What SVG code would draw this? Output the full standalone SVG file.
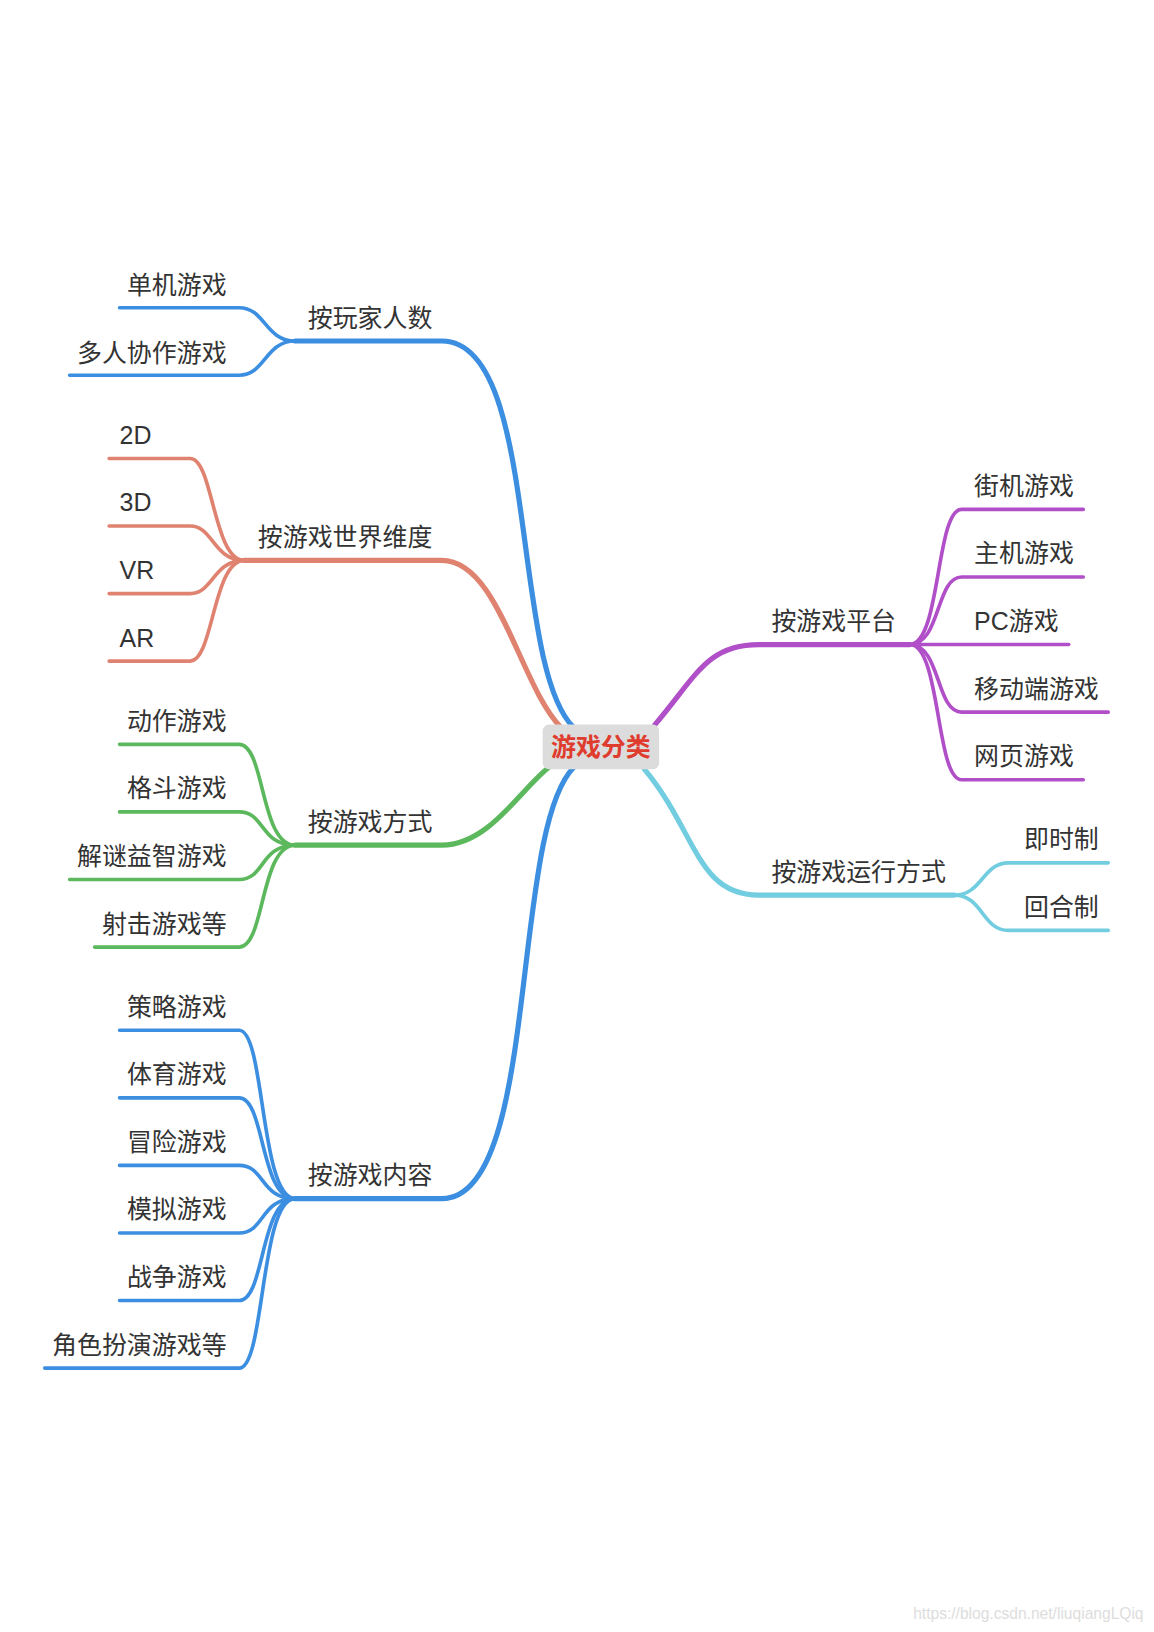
<svg xmlns="http://www.w3.org/2000/svg" width="1154" height="1632" viewBox="0 0 1154 1632">
<style>
.t{font-family:"Liberation Sans","Noto Sans CJK SC",sans-serif;font-size:24px;fill:#333}
.e{text-anchor:end}
path{fill:none;stroke-linecap:round}
.m{stroke-width:5}.c{stroke-width:3.5}
.b{stroke:#3b8ee0}.o{stroke:#e08270}.g{stroke:#5cb85c}.p{stroke:#b04fc8}.y{stroke:#72cde0}
</style>
<rect width="1154" height="1632" fill="#fff"/>
<g transform="scale(1.0396)">
<g id="connectors">
<path class="m b" d="M284,328 H425 C520,328 490,640 552,700"/>
<path class="m b" d="M284,1153 H425 C520,1153 490,800 552,738"/>
<path class="m o" d="M235,539 H425 C480,539 500,660 540,700"/>
<path class="m g" d="M284,813 H425 C470,813 500,760 528,738"/>
<path class="m p" d="M630,697 C670,650 680,620 730,620 H875"/>
<path class="m y" d="M620,740 C670,800 670,861 730,861 H918"/>
<path class="c b" d="M284,328 C255,328 255,296 230,296 H115"/>
<path class="c b" d="M284,328 C255,328 255,361 230,361 H67"/>
<path class="c o" d="M235,539 C205,539 205,441 183,441 H105"/>
<path class="c o" d="M235,539 C205,539 205,506 183,506 H105"/>
<path class="c o" d="M235,539 C205,539 205,571 183,571 H105"/>
<path class="c o" d="M235,539 C205,539 205,636 183,636 H105"/>
<path class="c g" d="M284,813 C250,813 255,716 230,716 H115"/>
<path class="c g" d="M284,813 C250,813 255,781 230,781 H115"/>
<path class="c g" d="M284,813 C250,813 255,846 230,846 H67"/>
<path class="c g" d="M284,813 C250,813 255,911 230,911 H91"/>
<path class="c b" d="M284,1153 C250,1153 255,991 230,991 H115"/>
<path class="c b" d="M284,1153 C250,1153 255,1056 230,1056 H115"/>
<path class="c b" d="M284,1153 C250,1153 255,1121 230,1121 H115"/>
<path class="c b" d="M284,1153 C250,1153 255,1186 230,1186 H115"/>
<path class="c b" d="M284,1153 C250,1153 255,1251 230,1251 H115"/>
<path class="c b" d="M284,1153 C250,1153 255,1316 230,1316 H43"/>
<path class="c p" d="M875,620 C905,620 900,490 925,490 H1042"/>
<path class="c p" d="M875,620 C905,620 900,555 925,555 H1042"/>
<path class="c p" d="M875,620 H1028"/>
<path class="c p" d="M875,620 C905,620 900,685 925,685 H1066"/>
<path class="c p" d="M875,620 C905,620 900,750 925,750 H1042"/>
<path class="c y" d="M918,861 C945,861 945,830 970,830 H1066"/>
<path class="c y" d="M918,861 C945,861 945,895 970,895 H1066"/>
</g>
<g id="root"><rect x="522" y="697" width="112" height="43" rx="6" fill="#dcdcdc"/>
<text x="578" y="727" text-anchor="middle" style="font-family:'Liberation Sans','Noto Sans CJK SC',sans-serif;font-size:24px;font-weight:bold;fill:#e03c2e">游戏分类</text></g>
<g id="n1"><text class="t" x="296" y="315">按玩家人数</text></g>
<g id="n1a"><text class="t e" x="218" y="283">单机游戏</text></g>
<g id="n1b"><text class="t e" x="218" y="348">多人协作游戏</text></g>
<g id="n2"><text class="t" x="248" y="525">按游戏世界维度</text></g>
<g id="n2a"><text class="t" x="115" y="427">2D</text></g>
<g id="n2b"><text class="t" x="115" y="492">3D</text></g>
<g id="n2c"><text class="t" x="115" y="557">VR</text></g>
<g id="n2d"><text class="t" x="115" y="622">AR</text></g>
<g id="n3"><text class="t" x="296" y="799">按游戏方式</text></g>
<g id="n3a"><text class="t e" x="218" y="702">动作游戏</text></g>
<g id="n3b"><text class="t e" x="218" y="767">格斗游戏</text></g>
<g id="n3c"><text class="t e" x="218" y="832">解谜益智游戏</text></g>
<g id="n3d"><text class="t e" x="218" y="897">射击游戏等</text></g>
<g id="n4"><text class="t" x="296" y="1139">按游戏内容</text></g>
<g id="n4a"><text class="t e" x="218" y="977">策略游戏</text></g>
<g id="n4b"><text class="t e" x="218" y="1042">体育游戏</text></g>
<g id="n4c"><text class="t e" x="218" y="1107">冒险游戏</text></g>
<g id="n4d"><text class="t e" x="218" y="1172">模拟游戏</text></g>
<g id="n4e"><text class="t e" x="218" y="1237">战争游戏</text></g>
<g id="n4f"><text class="t e" x="218" y="1302">角色扮演游戏等</text></g>
<g id="n5"><text class="t" x="742" y="606">按游戏平台</text></g>
<g id="n5a"><text class="t" x="937" y="476">街机游戏</text></g>
<g id="n5b"><text class="t" x="937" y="541">主机游戏</text></g>
<g id="n5c"><text class="t" x="937" y="606">PC游戏</text></g>
<g id="n5d"><text class="t" x="937" y="671">移动端游戏</text></g>
<g id="n5e"><text class="t" x="937" y="736">网页游戏</text></g>
<g id="n6"><text class="t" x="742" y="847">按游戏运行方式</text></g>
<g id="n6a"><text class="t" x="985" y="816">即时制</text></g>
<g id="n6b"><text class="t" x="985" y="881">回合制</text></g>
<text x="1100" y="1557" text-anchor="end" style="font-family:'Liberation Sans',sans-serif;font-size:15px;fill:#ddd">https://blog.csdn.net/liuqiangLQiq</text>
</g>
</svg>
